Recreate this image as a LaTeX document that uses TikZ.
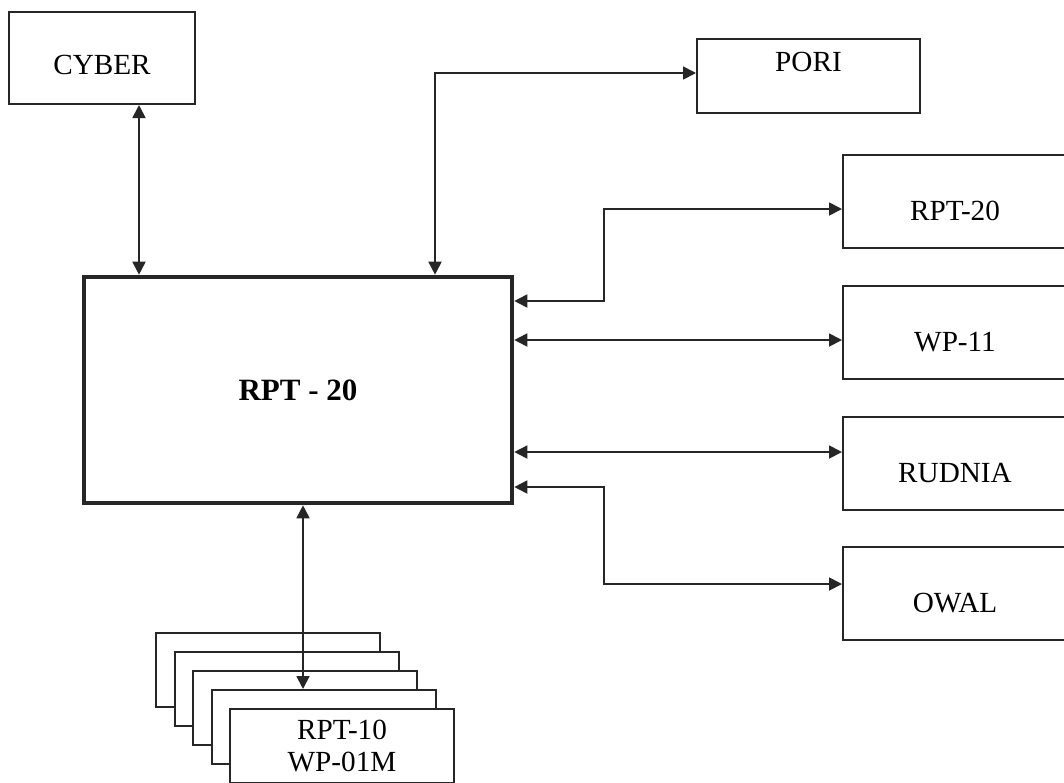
\documentclass[tikz,border=0pt]{standalone}
\usepackage{fontspec}
\setmainfont{Liberation Serif}
\usetikzlibrary{arrows.meta,positioning,calc}
\tikzset{
  devbox/.style={draw=black!85,fill=white,line width=1pt,inner sep=0pt,
                 minimum width=112pt,minimum height=46.5pt,align=center,
                 font=\fontsize{14.6}{16}\selectfont},
  sidecard/.style={devbox,text height=19pt,text depth=0pt},
  cybercard/.style={devbox,minimum width=93pt,minimum height=46pt,
                    text height=16.7pt,text depth=0pt},
  poricard/.style={devbox,minimum width=111.5pt,minimum height=37pt,
                   text height=0pt,text depth=4.3pt},
  termcard/.style={devbox,minimum height=37pt},
  hostcard/.style={draw=black!85,fill=white,line width=2.3pt,inner sep=0pt,
                   minimum width=214pt,minimum height=113pt,
                   font=\fontsize{15.5}{17}\selectfont\bfseries},
  link/.style={{Triangle[length=6.5pt,width=6.5pt]}-{Triangle[length=6.5pt,width=6.5pt]},
               line width=0.9pt,draw=black!85}
}
\begin{document}
\begin{tikzpicture}[x=0.5pt,y=-0.5pt]
  \path[use as bounding box,fill=white] (0,0) rectangle (1064,782);

  \node[hostcard] (host) at (298,390) {RPT - 20};
  \node[cybercard] (cyber) at (102,58) {CYBER};
  \node[poricard] (pori) at (808.5,76) {PORI};
  \node[sidecard] (rpt) at (955,201) {RPT-20};
  \node[sidecard] (wp) at (955,332.5) {WP-11};
  \node[sidecard] (rudnia) at (955,463) {RUDNIA};
  \node[sidecard] (owal) at (955,593.5) {OWAL};
  \foreach \k in {0,...,3}
    \node[termcard] (term\k) at ({268+18.5*\k},{670+19*\k}) {};
  \node[termcard] (term4) at (342,746) {RPT-10\\WP-01M};

  \coordinate (cyberdrop) at ([xshift=18.5pt]cyber.south);
  \draw[link] (cyberdrop) -- (cyberdrop |- host.north);
  \draw[link] ([yshift=1.5pt]pori.west) -| ([xshift=68.5pt]host.north);

  \coordinate (tap1) at ([yshift=44.5pt]host.east);
  \coordinate (tap2) at ([yshift=25pt]host.east);
  \coordinate (tap3) at ([yshift=-31pt]host.east);
  \coordinate (tap4) at ([yshift=-48.5pt]host.east);
  \draw[link] (tap1) -- ++(45pt,0pt) |- ([yshift=-4pt]rpt.west);
  \draw[link] (tap2) -- (tap2 -| wp.west);
  \draw[link] (tap3) -- (tap3 -| rudnia.west);
  \draw[link] (tap4) -- ++(45pt,0pt) |- ([yshift=4.75pt]owal.west);

  \coordinate (tapb) at ([xshift=2.5pt]host.south);
  \draw[link] (tapb) -- (tapb |- term3.north);
\end{tikzpicture}
\end{document}
